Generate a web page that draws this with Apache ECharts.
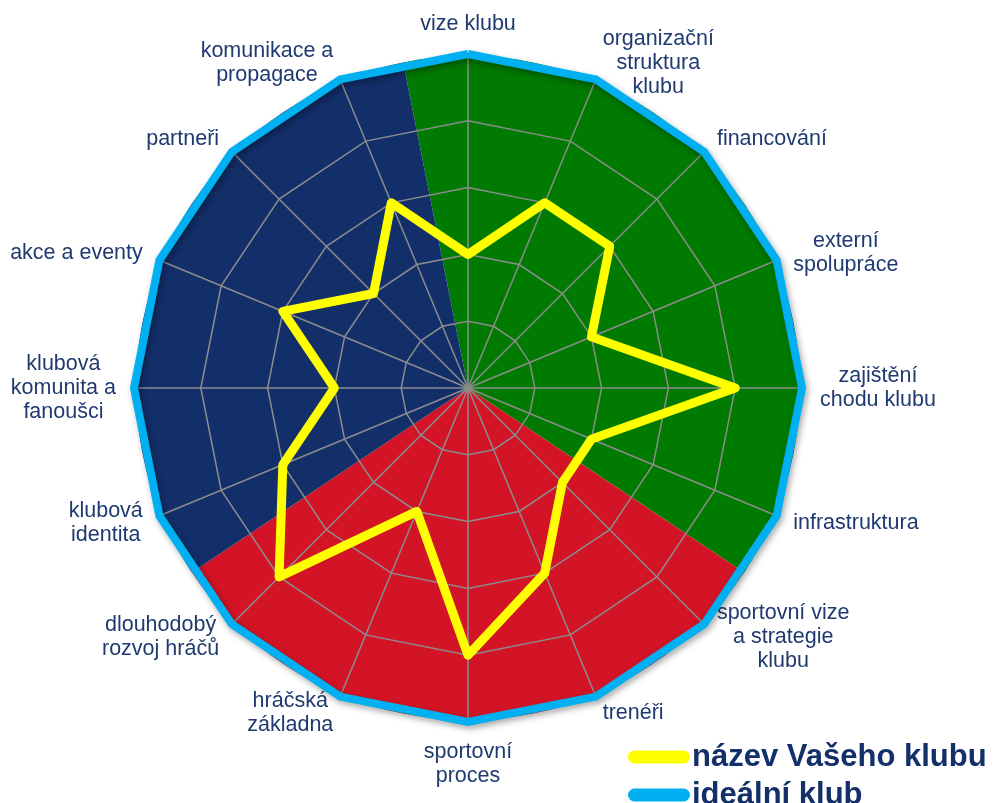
<!DOCTYPE html>
<html>
<head>
<meta charset="utf-8">
<title>Radar klubu</title>
<script src="https://cdn.jsdelivr.net/npm/echarts@6/dist/echarts.min.js"></script>
<style>
  html, body { margin: 0; padding: 0; background: #fff; }
  #chart { width: 1006px; height: 803px; }
</style>
</head>
<body>
<div id="chart"></div>
<script>
  // oblasti po směru hodinových ručiček, od vrcholu
  const categories = ['vize klubu', 'organizační\nstruktura\nklubu', 'financování', 'externí\nspolupráce',
    'zajištění\nchodu klubu', 'infrastruktura', 'sportovní vize\na strategie\nklubu', 'trenéři',
    'sportovní\nproces', 'hráčská\nzákladna', 'dlouhodobý\nrozvoj hráčů', 'klubová\nidentita',
    'klubová\nkomunita a\nfanoušci', 'akce a eventy', 'partneři', 'komunikace a\npropagace']
  const clubValues = [2, 3, 3, 2, 4, 2, 2, 3, 4, 2, 4, 3, 2, 3, 2, 3]
  const idealValues = [5, 5, 5, 5, 5, 5, 5, 5, 5, 5, 5, 5, 5, 5, 5, 5]
  const maxValue = 5
  const seriesNames = ['název Vašeho klubu', 'ideální klub']
  // barevné sektory pod sítí, počet oblastí v každém
  const sectorNames = ['klub', 'sport', 'komunita']
  const sectorSizes = [6, 5, 5]

  const TEXT = '#1f3a70'
  const FONT = '"Liberation Sans", Arial, sans-serif'

  let chart = echarts.init(document.getElementById('chart'))

  // echarts radar jde proti směru hodinových ručiček, tak pořadí otočíme
  const n = categories.length
  const order = categories.map((c, i) => (n - i) % n)
  const pick = arr => order.map(i => arr[i])

  let indicators = pick(categories).map(name => ({ name: name, max: maxValue }))
  let sectorColors = ['#007a00', '#d31426', '#122f6a']

  // jedna legenda na řádek, ať řádky sedí přesně pod sebou
  let legendRow = (name, top) => ({
    left: 623,
    top: top,
    itemWidth: 62,
    itemHeight: 13,
    icon: 'path://M6.5,0H55.5A6.5,6.5,0,0,1,55.5,13H6.5A6.5,6.5,0,0,1,6.5,0Z',
    data: [name],
    selectedMode: false,
    textStyle: {
      fontFamily: FONT,
      fontSize: 31,
      fontWeight: 'bold',
      color: '#13306b',
      lineHeight: 36,
      padding: [0, 0, 0, -3]
    }
  })

  let option = {
    animation: false,
    legend: [legendRow(seriesNames[0], 734), legendRow(seriesNames[1], 772)],
    radar: {
      z: 3,
      center: [468, 388],
      radius: 334,
      startAngle: 90,
      shape: 'polygon',
      splitNumber: 5,
      axisNameGap: 18,
      indicator: indicators,
      axisName: {
        color: TEXT,
        fontFamily: FONT,
        fontSize: 21.5,
        lineHeight: 24,
        formatter: name => name.split('\n').map(s => '{c|' + s + '}').join('\n'),
        rich: {
          c: { align: 'center', color: TEXT, fontFamily: FONT, fontSize: 21.5, lineHeight: 24 }
        }
      },
      axisLine: { lineStyle: { color: '#8c8c8c', width: 1.5 } },
      splitLine: { lineStyle: { color: '#8c8c8c', width: 1.5 } },
      splitArea: { show: false }
    },
    series: [
      {
        type: 'pie',
        z: 1,
        silent: true,
        center: [468, 388],
        radius: 332,
        startAngle: 90 + 180 / n,
        label: { show: false },
        labelLine: { show: false },
        itemStyle: { borderWidth: 0 },
        emphasis: { disabled: true },
        data: sectorNames.map((s, i) => ({ name: s, value: sectorSizes[i], itemStyle: { color: sectorColors[i] } }))
      },
      {
        type: 'radar',
        z: 4,
        symbol: 'none',
        silent: true,
        data: [
          {
            name: seriesNames[1],
            value: pick(idealValues),
            itemStyle: { color: '#00b0f0' },
            lineStyle: {
              color: '#00b0f0', width: 8, join: 'miter',
              shadowColor: 'rgba(0,0,0,0.35)', shadowBlur: 6, shadowOffsetX: 2, shadowOffsetY: 3
            }
          },
          {
            name: seriesNames[0],
            value: pick(clubValues),
            itemStyle: { color: '#ffff00' },
            lineStyle: { color: '#ffff00', width: 9, join: 'round', cap: 'round' }
          }
        ]
      }
    ]
  }
  chart.setOption(option)
</script>
</body>
</html>
